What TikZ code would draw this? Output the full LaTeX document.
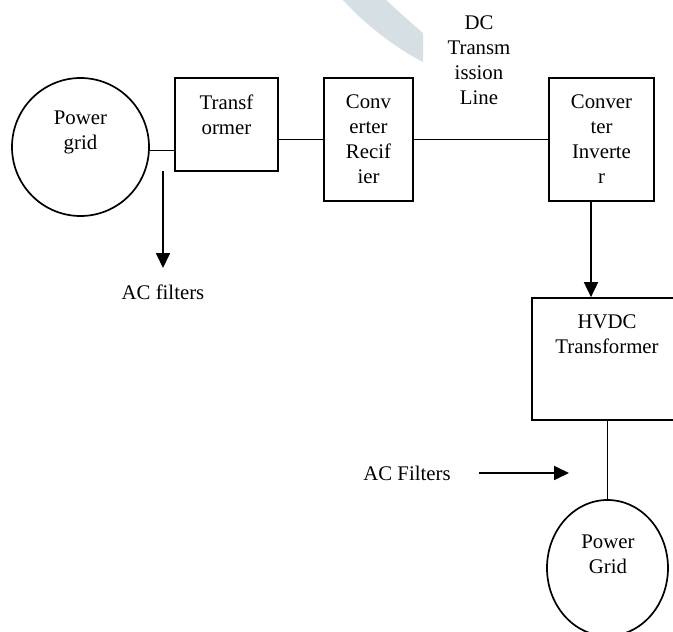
\documentclass[tikz,border=0pt]{standalone}
\usepackage{fontspec}
\setmainfont{Liberation Serif}
\usetikzlibrary{arrows.meta,shapes.geometric}
\definecolor{wmark}{RGB}{214,223,228}
\tikzset{
  blk/.style={draw, line width=1.7pt, rectangle, inner sep=0pt},
  grid/.style={draw, line width=1.7pt, ellipse, inner sep=0pt},
  txt/.style={align=center, inner sep=0pt, font=\fontsize{20.8}{25}\selectfont},
  wire/.style={line width=1.7pt},
  arr/.style={line width=1.8pt, -{Triangle[width=14pt,length=15pt]}}
}
\begin{document}
\begin{tikzpicture}[x=1pt,y=-1pt]
\clip (0,0) rectangle (673,632);
\fill[white] (0,0) rectangle (673,632);
% watermark band
\fill[wmark] (343,0) .. controls (360,19) and (390,45) .. (423,62) -- (423,33)
  .. controls (410,22) and (397,10) .. (386,0) -- cycle;

% shapes
\node[grid, minimum width=137pt, minimum height=138pt] (pg1) at (80.5,147) {};
\node[blk, minimum width=103pt, minimum height=93pt] (tr) at (226.5,124.5) {};
\node[blk, minimum width=89pt, minimum height=123pt] (rect) at (368.5,139.5) {};
\node[blk, minimum width=105pt, minimum height=123pt] (inv) at (601.5,139.5) {};
\node[blk, minimum width=150pt, minimum height=122pt] (hvdc) at (607,359) {};
\node[grid, minimum width=121pt, minimum height=136pt] (pg2) at (607.5,568) {};

% texts
\node[txt] (pg1t) at (80.5,132) {Power\\grid};
\node[txt] (trt) at (226.5,115) {Transf\\ormer};
\node[txt] (rectt) at (368.5,139.5) {Conv\\erter\\Recif\\ier};
\node[txt] (dct) at (479,60) {DC\\Transm\\ission\\Line};
\node[txt] (invt) at (601.5,139.5) {Conver\\ter\\Inverte\\r};
\node[txt] (hvdct) at (607,334.5) {HVDC\\Transformer};
\node[txt] (pg2t) at (608,554) {Power\\Grid};
\node[txt] (acf1) at (163,292) {AC filters};
\node[txt] (acf2) at (407,473) {AC Filters};

% connectors
\draw[wire] (pg1.-3) -- (tr.west |- pg1.-3);
\draw[wire] (tr.east |- rect.west) -- (rect.west);
\draw[wire] (rect.east) -- (inv.west);
\draw[wire] (hvdc.south -| pg2.north) -- (pg2.north);
\coordinate (invdown) at (591,201);
\coordinate (hvdctop) at (591,298);
\draw[arr] (inv.south -| invdown) -- (hvdc.north -| hvdctop);
\coordinate (f1s) at (163,171);
\coordinate (f1e) at (163,268);
\draw[arr] (f1s) -- (f1e);
\coordinate (f2s) at (479,473);
\coordinate (f2e) at (569,473);
\draw[arr] (f2s) -- (f2e);
\end{tikzpicture}
\end{document}
